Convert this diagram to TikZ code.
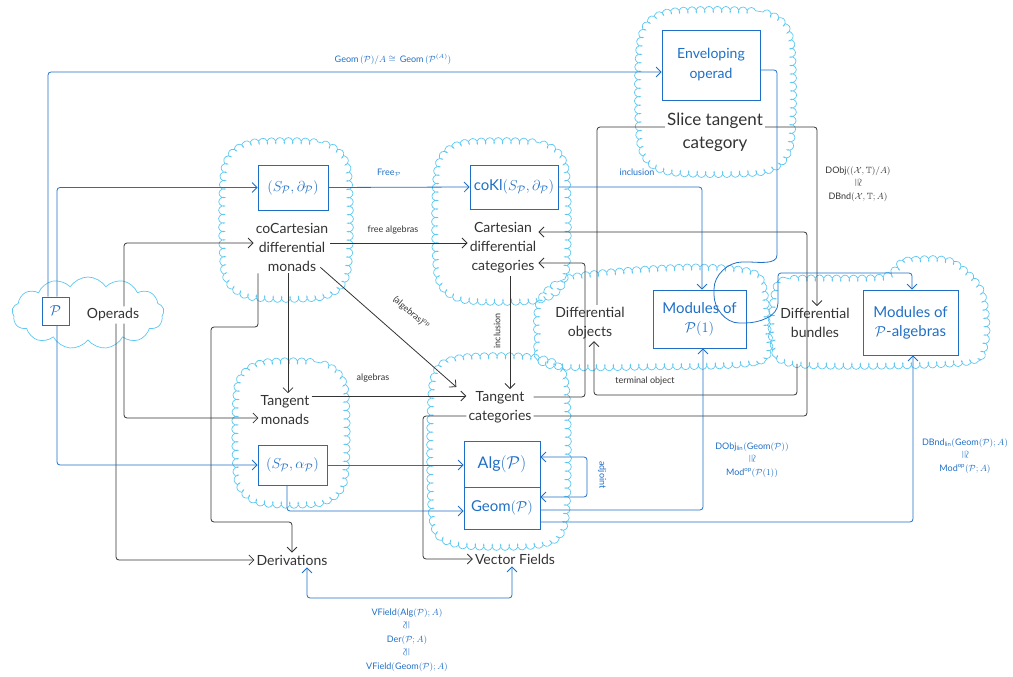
\documentclass[tikz,border=0pt]{standalone}
\usepackage{amssymb}
\usepackage{fontspec}
\usepackage{graphicx}
\setmainfont{Lato}
\usetikzlibrary{arrows.meta,decorations.pathmorphing,shapes.symbols}
\definecolor{ink}{HTML}{333333}
\definecolor{pen}{HTML}{1F6FC6}
\definecolor{puff}{HTML}{5CC8F2}
\newcommand{\PP}{\ensuremath{\mathcal{P}}}
\newcommand{\isoL}{\scalebox{1.2}{\rotatebox[origin=c]{90}{$\cong$}}}
\newcommand{\isoR}{\scalebox{1.2}{\rotatebox[origin=c]{-90}{$\cong$}}}
% curly-bordered rounded box: x1 y1 x2 y2 radius
\newcommand{\curlybox}[5]{\draw[curly] plot[smooth cycle, tension=0.45] coordinates
  {({#1+#5},#2) ({#3-#5},#2) (#3,{#2+#5}) (#3,{#4-#5}) ({#3-#5},#4) ({#1+#5},#4)
   (#1,{#4-#5}) (#1,{#2+#5})};}
\begin{document}
\begin{tikzpicture}[x=1pt,y=-1pt,
  inkline/.style={draw=ink, line width=0.8pt, rounded corners=3pt},
  penline/.style={draw=pen, line width=0.8pt, rounded corners=3pt},
  tip/.style={-{Straight Barb[length=5pt,width=10pt]}},
  twotip/.style={{Straight Barb[length=5pt,width=10pt]}-{Straight Barb[length=5pt,width=10pt]}},
  curly/.style={draw=puff, line width=0.7pt, decorate,
    decoration={coil, amplitude=3pt, segment length=8.5pt, aspect=0.65}},
  concept/.style={text=ink, font=\fontsize{14}{19}\selectfont, align=center, inner sep=2pt},
  penbox/.style={draw=pen, line width=0.8pt, text=pen, align=center, inner sep=0pt,
    font=\fontsize{15}{19}\selectfont},
  note/.style={text=ink, font=\fontsize{9}{13}\selectfont, inner sep=1pt, align=center},
  bnote/.style={text=pen, font=\fontsize{9}{13}\selectfont, inner sep=1pt, align=center},
]
\useasboundingbox (0,0) rectangle (1013,677);

% ---- clouds behind everything ----
\node[cloud, cloud puffs=13, cloud puff arc=115, aspect=2.2, draw=puff, line width=0.7pt,
  minimum width=152pt, minimum height=72pt, inner sep=0pt] (opscloud) at (88,313) {};
\curlybox{224}{143}{348}{297}{26}
\curlybox{437}{143}{566}{300}{26}
\curlybox{237}{363}{345}{503}{24}
\curlybox{432}{358}{566}{545}{26}
\curlybox{640}{12}{791}{172}{28}
\draw[curly] plot[smooth cycle, tension=0.5] coordinates
  {(540,300) (565,279) (620,271) (700,267) (757,275) (767,320) (760,361) (650,367) (548,365) (537,335)};
\draw[curly] plot[smooth cycle, tension=0.5] coordinates
  {(774,295) (790,279) (880,277) (905,261) (950,261) (981,290) (986,340) (962,363) (800,365) (773,345)};

% ---- concepts ----
\node[concept] (ops) at (113,315) {Operads};
\node[concept] (cdm) at (292,247) {coCartesian\\differential\\monads};
\node[concept] (cdc) at (503,248) {Cartesian\\differential\\categories};
\node[concept] (tm)  at (285,410) {Tangent\\monads};
\node[concept] (tc)  at (500,407) {Tangent\\categories};
\node[concept, font=\fontsize{17}{23}\selectfont] (stc) at (715,132) {Slice tangent\\category};
\node[concept] (dob) at (590,323) {Differential\\objects};
\node[concept] (dbu) at (815,323) {Differential\\bundles};
\node[concept] (der) at (292,560) {Derivations};
\node[concept] (vf)  at (515,559) {Vector Fields};

% ---- boxed models ----
\node[penbox, minimum width=27pt, minimum height=28pt] (P) at (55.5,311) {\PP};
\node[penbox, minimum width=70pt, minimum height=45pt] (sd) at (293,187.5)
  {$(S_{\mathcal{P}},\partial_{\mathcal{P}})$};
\node[penbox, minimum width=88pt, minimum height=44pt] (cokl) at (514,187)
  {coKl$(S_{\mathcal{P}},\partial_{\mathcal{P}})$};
\node[penbox, minimum width=98pt, minimum height=70pt, font=\fontsize{14}{20}\selectfont]
  (env) at (711,65) {Enveloping\\operad};
\node[penbox, minimum width=93pt, minimum height=58pt] (mod1) at (699.5,319)
  {Modules of\\$\mathcal{P}(1)$};
\node[penbox, minimum width=95pt, minimum height=65pt] (modalg) at (910.5,322.5)
  {Modules of\\$\mathcal{P}$-algebras};
\node[penbox, minimum width=69pt, minimum height=40pt] (sa) at (292.5,465)
  {$(S_{\mathcal{P}},\alpha_{\mathcal{P}})$};
\node[penbox, minimum width=76pt, minimum height=46pt, font=\fontsize{16}{19}\selectfont]
  (alg) at (502,464) {Alg$(\mathcal{P})$};
\node[penbox, minimum width=76pt, minimum height=42pt] (geom) at (502,508)
  {Geom$(\mathcal{P})$};

% ---- black functors ----
\draw[inkline, tip] (ops.north -| 124,0) |- (cdm.west |- 0,243);
\draw[inkline, tip] (ops.south -| 124,0) |- (tm.west |- 0,418);
\draw[inkline, tip] (ops.south -| 116,0) |- (der.west);
\draw[inkline, tip] (cdm.east |- 0,243) -- (cdc.west |- 0,243);
\node[note] (freealg) at (393,230) {free algebras};
\draw[inkline, tip] (cdm.south -| 288,0) -- (tm.north -| 288,0);
\draw[inkline, tip] ([shift={(-10pt,6pt)}]cdm.south east) -- ([shift={(-10pt,2pt)}]tc.north west);
\node[note, rotate=-41] (algop) at (411,313) {(algebras)\textsuperscript{op}};
\draw[inkline, tip] (cdm.south -| 258,0) |- (211,327) -- (211,522) -| (der.north);
\draw[inkline, tip] (tm.east |- 0,396) -- (tc.west |- 0,396);
\node[note] (alglbl) at (373,378) {algebras};
\draw[inkline, tip] (cdc.south -| 510,0) -- (tc.north -| 510,0);
\node[note, rotate=90] (incl) at (497,331) {inclusion};
\draw[inkline, tip] (tc.west |- 0,416) -- (423,416) |- (vf.west);
\draw[inkline, tip] (tc.east |- 0,397) -| (585,263) -- (cdc.east |- 0,263);
\draw[inkline, tip] (tc.east |- 0,416) -| (807,232) -- (cdc.east |- 0,232);
\draw[inkline, tip] (stc.east |- 0,127) -| (dbu.north -| 817,0);
\draw[inkline] (stc.west |- 0,127) -| (dob.north -| 597,0);
\draw[inkline, tip, shorten <=24pt] (dbu.south -| 797,0) |- (594,395) -- (dob.south -| 594,0);
\node[note] (termlbl) at (645,381) {terminal object};
\node[note] (dobjlbl) at (858,184)
  {DObj$((\mathcal{X},\mathbb{T})/A)$\\\isoR\\DBnd$(\mathcal{X},\mathbb{T};A)$};

% ---- blue functors ----
\draw[penline, tip] (P.north -| 48,0) |- ([yshift=-7pt]env.west);
\node[bnote] (slicelbl) at (393,59) {Geom\,$(\mathcal{P})/A\cong{}$\,Geom\,$(\mathcal{P}^{(A)})$};
\draw[penline, tip] (P.north -| 57,0) |- (sd.west);
\draw[penline, tip] (P.south -| 57,0) |- (sa.west);
\draw[penline, tip] (sd.east) -- (cokl.west);
\node[bnote] (freelbl) at (389,173) {Free$_{\mathcal{P}}$};
\draw[penline, tip] (cokl.east) -| (mod1.north -| 702,0);
\node[bnote] (inclbl) at (637,172) {inclusion};
\draw[penline, tip] ([yshift=-5pt]env.east) -| (777,252)
  to[out=-90,in=0] (745,262) to[out=180,in=90] (714,292)
  to[out=-90,in=180] (742,323) to[out=0,in=-90] (778,300)
  -- (778,273) -| (modalg.north -| 912,0);
\draw[penline, tip] (geom.east |- 0,510) -| (mod1.south -| 703,0);
\draw[penline, tip] (geom.east |- 0,522) -| (modalg.south -| 913,0);
\draw[penline, twotip] (alg.east |- 0,457) -| (587,477) |- (geom.east |- 0,497);
\node[bnote, rotate=-90] (adjlbl) at (602,475) {adjoint};
\draw[penline, tip] (sa.east) -- (alg.west |- sa.east);
\draw[penline, tip] (sa.south -| 287,0) |- (geom.west |- 0,511);
\draw[penline, twotip] (der.south -| 307,0) -- (307,598) -| (vf.south -| 512,0);
\node[bnote] (dobjlin) at (752,460)
  {DObj$_{\mathrm{lin}}($Geom$(\mathcal{P}))$\\\isoR\\Mod$^{\mathrm{op}}(\mathcal{P}(1))$};
\node[bnote] (dbndlin) at (965,456)
  {DBnd$_{\mathrm{lin}}($Geom$(\mathcal{P});A)$\\\isoR\\Mod$^{\mathrm{op}}(\mathcal{P};A)$};
\node[bnote, font=\fontsize{9}{13.5}\selectfont] (vfieldlbl) at (407,640)
  {VField$($Alg$(\mathcal{P});A)$\\\isoL\\Der$(\mathcal{P};A)$\\\isoL\\VField$($Geom$(\mathcal{P});A)$};
\end{tikzpicture}
\end{document}
